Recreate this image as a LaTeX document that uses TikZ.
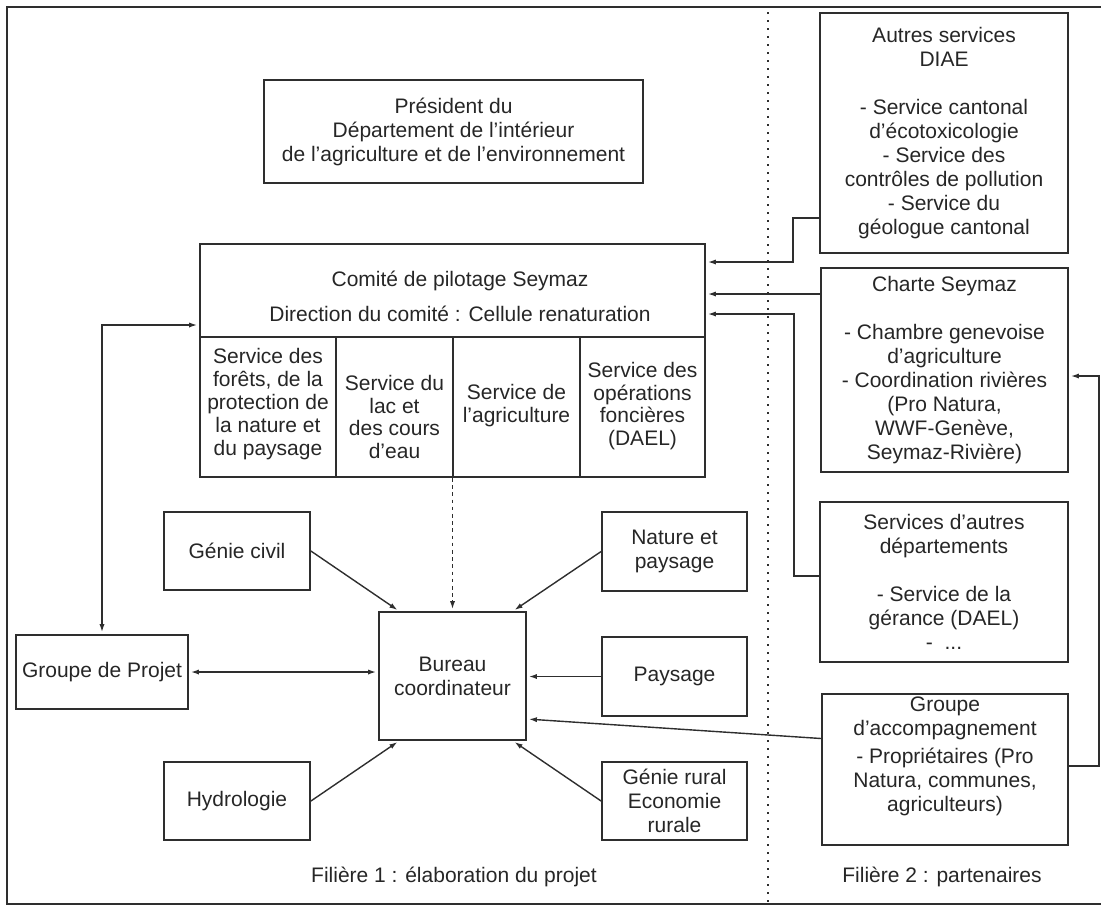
\documentclass[tikz,border=0pt]{standalone}
\usepackage{fontspec}
\setmainfont{Liberation Sans}
\usetikzlibrary{arrows.meta,calc}
\definecolor{ink}{gray}{0.18}
\definecolor{txt}{gray}{0.15}
\newcommand\diagfont{\fontsize{10.5}{12}\selectfont}
\newcommand\colfont{\fontsize{10.5}{11.4}\selectfont}
\begin{document}
\begin{tikzpicture}[x=0.5pt,y=-0.5pt,
  every node/.style={font=\diagfont,text=txt},
  box/.style={draw=ink,line width=0.9pt,inner sep=0pt,align=center},
  lbl/.style={align=center,inner sep=0pt},
  col/.style={lbl,font=\colfont},
  link/.style={draw=ink,line width=0.7pt,-{Latex[length=4pt,width=2.6pt]},shorten >=1pt},
  twoway/.style={draw=ink,line width=0.7pt,{Latex[length=4pt,width=2.6pt]}-{Latex[length=4pt,width=2.6pt]},shorten >=1pt,shorten <=1pt},
  frameline/.style={draw=ink,line width=1pt}]
\useasboundingbox (0,0) rectangle (1101,907);

% outer frame (open on the right) and the dotted divider
\draw[frameline] (1101,7) -- (7,7) -- (7,904) -- (1101,904);
\draw[ink,line width=0.8pt,dash pattern=on 1.2pt off 2.8pt] (768,12) -- (768,904);

% left side
\node[box,minimum width=189.5pt,minimum height=51.5pt] (pr) at (453.5,131.5)
  {Président du\\ Département de l’intérieur\\ de l’agriculture et de l’environnement};

\node[box,minimum width=252.5pt,minimum height=116.5pt] (cp) at (452.5,360.5) {};
\draw[ink,line width=0.9pt] (200,337) -- (705,337);
\draw[ink,line width=0.9pt] (336,337) -- (336,477) (453,337) -- (453,477) (580,337) -- (580,477);
\node[lbl] (cpt) at (460,281) {Comité de pilotage Seymaz};
\node[lbl] (cpd) at (460,314) {Direction du comité : Cellule renaturation};
\node[col] (s1) at (268,404) {Service des\\ forêts, de la\\ protection de\\ la nature et\\ du paysage};
\node[col] (s2) at (394.5,417) {Service du\\ lac et\\ des cours\\ d’eau};
\node[col] (s3) at (516.5,405.5) {Service de\\ l’agriculture};
\node[col] (s4) at (642.5,406) {Service des\\ opérations\\ foncières\\ (DAEL)};

\node[box,minimum width=73pt,minimum height=39pt] (gc) at (237,551) {Génie civil};
\node[box,minimum width=73pt,minimum height=39pt] (hy) at (237,801) {Hydrologie};
\node[box,minimum width=86pt,minimum height=37pt] (gp) at (102,672) {Groupe de Projet};
\node[box,minimum width=73.5pt,minimum height=64pt] (bc) at (452.5,676) {Bureau\\ coordinateur};
\node[box,minimum width=72.5pt,minimum height=39.5pt] (na) at (674.5,551.5) {Nature et\\ paysage};
\node[box,minimum width=72.5pt,minimum height=39.5pt] (pa) at (674.5,676.5) {Paysage};
\node[box,minimum width=72.5pt,minimum height=39pt] (gr) at (674.5,801) {Génie rural\\ Economie\\ rurale};

\node[lbl] (f1) at (454,877) {Filière 1 : élaboration du projet};

% right side
\node[box,minimum width=124pt,minimum height=120pt] (au) at (944,133)
  {Autres services\\ DIAE\\[12pt] - Service cantonal\\ d’écotoxicologie\\ - Service des\\ contrôles de pollution\\ - Service du\\ géologue cantonal};
\node[box,minimum width=123.5pt,minimum height=102pt] (ch) at (944.5,370)
  {Charte Seymaz\\[12pt] - Chambre genevoise\\ d’agriculture\\ - Coordination rivières\\ (Pro Natura,\\ WWF-Genève,\\ Seymaz-Rivière)};
\node[box,minimum width=124pt,minimum height=80pt] (so) at (944,582)
  {Services d’autres\\ départements\\[12pt] - Service de la\\ gérance (DAEL)\\ -~~...};
\node[box,minimum width=123pt,minimum height=75.5pt] (ga) at (945,769.5)
  {Groupe\\ d’accompagnement\\[2pt] - Propriétaires (Pro\\ Natura, communes,\\ agriculteurs)\\ \strut};

\node[lbl] (f2) at (942,877) {Filière 2 : partenaires};

% links into the Bureau coordinateur
\draw[link] (gc.east) -- ([shift={(21,0)}]bc.north west);
\draw[link] (hy.east) -- ([shift={(21,0)}]bc.south west);
\draw[link] (na.west) -- ([shift={(-14,0)}]bc.north east);
\draw[link] (gr.west) -- ([shift={(-14,0)}]bc.south east);
\draw[link] (pa.west) -- (bc.east |- pa.west);
\draw[twoway] (gp.east) -- (bc.west |- gp.east);
\draw[link,dash pattern=on 1.8pt off 1.8pt] (cp.south) -- (bc.north);
\draw[link] ([shift={(0,-31)}]ga.west) -- ([shift={(0,43)}]bc.east);

% Groupe de Projet <-> Comite
\coordinate (cpl) at ([shift={(0,-35.5)}]cp.west);
\draw[twoway] (gp.north) |- (cpl);

% partners into the Comite
\coordinate (k1) at (793,262);
\draw[link] ([shift={(0,85)}]au.west) -| (k1) -- (cp.east |- k1);
\coordinate (c2) at ([shift={(0,-76)}]ch.west);
\draw[link] (c2) -- (cp.east |- c2);
\coordinate (k3) at (794,314);
\draw[link] ([shift={(0,-6)}]so.west) -| (k3) -- (cp.east |- k3);
\coordinate (k4) at (1099,376);
\draw[link] ([shift={(0,-3.5)}]ga.east) -| (k4) -- (ch.east |- k4);
\end{tikzpicture}
\end{document}
